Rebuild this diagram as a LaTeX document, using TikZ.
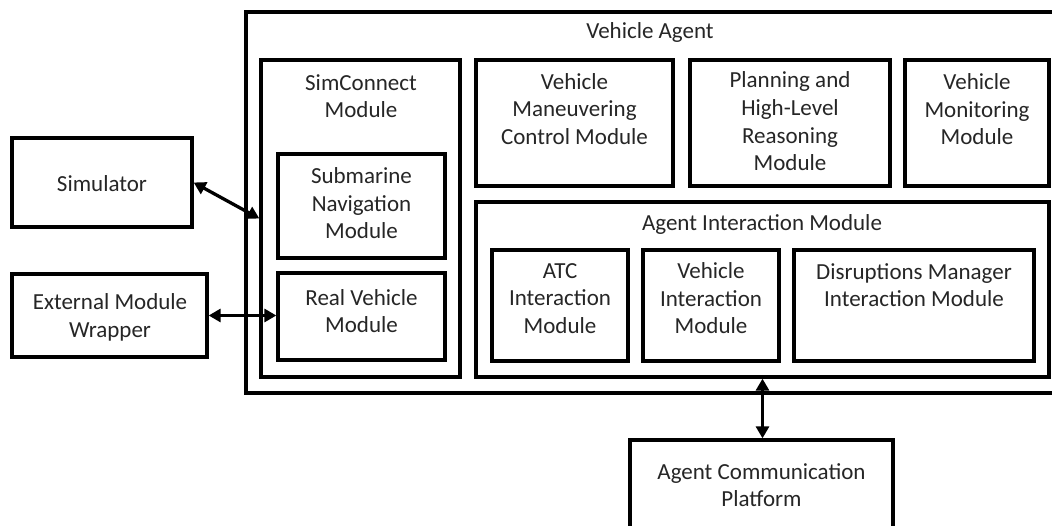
\documentclass[tikz,border=0pt]{standalone}
\usepackage{fontspec}
\setmainfont{Carlito}
\usetikzlibrary{arrows.meta}
\tikzset{
  box/.style={draw=black, line width=3.3pt, fill=none, inner sep=0pt},
  txt/.style={align=center, inner sep=0pt, text=black!85,
    font=\fontsize{23pt}{27.6pt}\selectfont},
  arr/.style={line width=3.3pt, {Triangle[length=12pt,width=13pt]}-{Triangle[length=12pt,width=13pt]}}
}
\begin{document}
\begin{tikzpicture}[x=1pt,y=-1pt]
\useasboundingbox (0,0) rectangle (1052,526);
\clip (0,0) rectangle (1052,526);
\fill[white] (0,0) rectangle (1052,526);
% boxes
\node[box, minimum width=814pt, minimum height=381pt] (va) at (653,202.5) {};
\node[box, minimum width=199pt, minimum height=317pt] (sc) at (360.5,218.5) {};
\node[box, minimum width=167pt, minimum height=104pt] (sub) at (361.5,206) {};
\node[box, minimum width=167pt, minimum height=87pt] (rv) at (361.5,316.5) {};
\node[box, minimum width=180pt, minimum height=89pt] (sim) at (102,182.5) {};
\node[box, minimum width=195pt, minimum height=83pt] (emw) at (109.5,315.5) {};
\node[box, minimum width=197pt, minimum height=126pt] (vm) at (574.5,123) {};
\node[box, minimum width=200pt, minimum height=126pt] (plan) at (790,123) {};
\node[box, minimum width=144pt, minimum height=126pt] (mon) at (977,123) {};
\node[box, minimum width=573pt, minimum height=175pt] (aim) at (762.5,289.5) {};
\node[box, minimum width=136pt, minimum height=111pt] (atc) at (560,305.5) {};
\node[box, minimum width=136pt, minimum height=111pt] (vi) at (711,305.5) {};
\node[box, minimum width=240pt, minimum height=111pt] (dm) at (914,305.5) {};
\node[box, minimum width=263pt, minimum height=100pt] (acp) at (761.5,490) {};
% texts
\node[txt] (tva) at (650,32) {Vehicle Agent};
\node[txt] (tsc) at (361,96) {SimConnect\\Module};
\node[txt] (tsub) at (361.5,203.5) {Submarine\\Navigation\\Module};
\node[txt] (trv) at (361.5,311) {Real Vehicle\\Module};
\node[txt] (tsim) at (102,183.5) {Simulator};
\node[txt] (temw) at (110,317.5) {External Module\\Wrapper};
\node[txt] (tvm) at (574.5,109) {Vehicle\\Maneuvering\\Control Module};
\node[txt] (tplan) at (790,121.5) {Planning and\\High-Level\\Reasoning\\Module};
\node[txt] (tmon) at (977,109.5) {Vehicle\\Monitoring\\Module};
\node[txt] (taim) at (762,224.5) {Agent Interaction Module};
\node[txt] (tatc) at (560,298.5) {ATC\\Interaction\\Module};
\node[txt] (tvi) at (711,298.5) {Vehicle\\Interaction\\Module};
\node[txt] (tdm) at (914,285) {Disruptions Manager\\Interaction Module};
\node[txt] (tacp) at (761.5,485) {Agent Communication\\Platform};
% connectors
\draw[arr] (sim.east) -- (sc.west);
\draw[arr] (emw.east) -- (emw.east -| rv.west);
\draw[arr] (aim.south) -- (aim.south |- acp.north);
\end{tikzpicture}
\end{document}
